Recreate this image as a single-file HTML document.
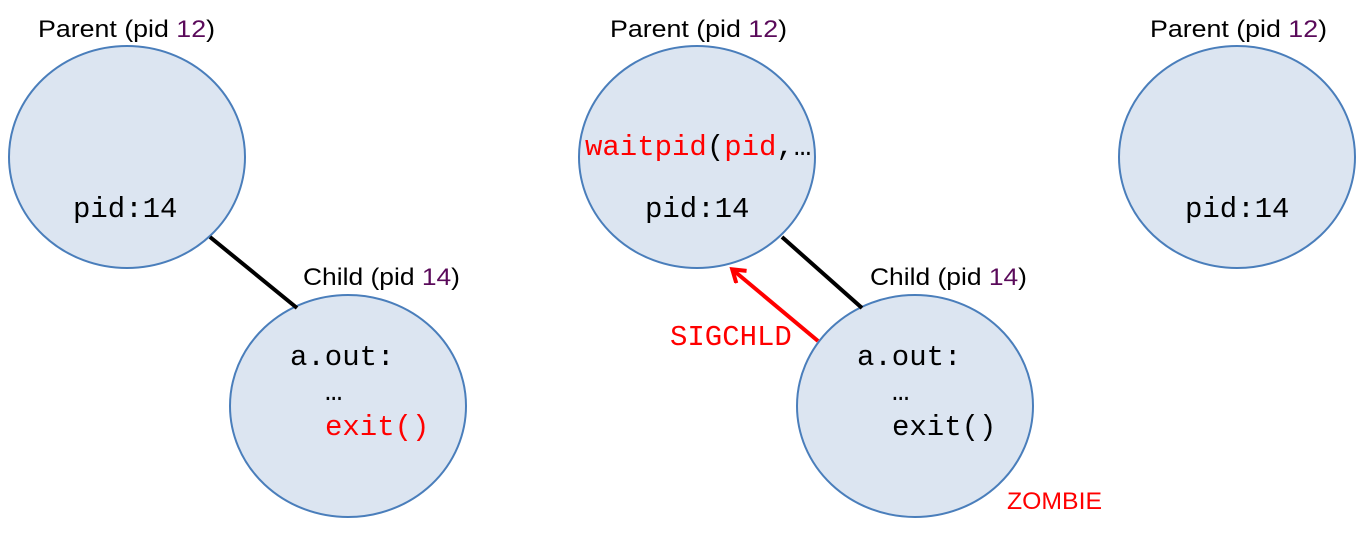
<!DOCTYPE html>
<html><head><meta charset="utf-8"><style>
html,body{margin:0;padding:0;background:#fff;}
svg{display:block;}
.lab{font-family:"Liberation Sans",sans-serif;font-size:24px;fill:#000;}
.mono{font-family:"Liberation Mono","Courier New",monospace;font-size:29px;fill:#000;}
.red{fill:#ff0000;}
.pur{fill:#5a0a5a;}
</style></head><body>
<svg width="1365" height="536" viewBox="0 0 1365 536">
<defs>
<marker id="ah" markerWidth="20" markerHeight="20" refX="12" refY="9" orient="auto" markerUnits="userSpaceOnUse">
<path d="M1,1 L13,9 L1,17" fill="none" stroke="#ff0000" stroke-width="4"/>
</marker>
</defs>
<g fill="#dce5f1" stroke="#4a7ebb" stroke-width="2">
<ellipse cx="127" cy="157" rx="118" ry="111"/>
<ellipse cx="348" cy="406" rx="118" ry="111"/>
<ellipse cx="697" cy="157" rx="118" ry="111"/>
<ellipse cx="915" cy="406" rx="118" ry="111"/>
<ellipse cx="1237" cy="157" rx="118" ry="111"/>
</g>
<line x1="210" y1="237" x2="297" y2="308" stroke="#000" stroke-width="4"/>
<line x1="782" y1="237" x2="862" y2="308" stroke="#000" stroke-width="4"/>
<line x1="818" y1="341" x2="733" y2="270" stroke="#ff0000" stroke-width="4" marker-end="url(#ah)"/>

<text class="lab" x="38" y="37" textLength="177" lengthAdjust="spacingAndGlyphs">Parent (pid <tspan class="pur">12</tspan>)</text>
<text class="lab" x="610" y="37" textLength="177" lengthAdjust="spacingAndGlyphs">Parent (pid <tspan class="pur">12</tspan>)</text>
<text class="lab" x="1150" y="37" textLength="177" lengthAdjust="spacingAndGlyphs">Parent (pid <tspan class="pur">12</tspan>)</text>
<text class="lab" x="303" y="285" textLength="157" lengthAdjust="spacingAndGlyphs">Child (pid <tspan class="pur">14</tspan>)</text>
<text class="lab" x="870" y="285" textLength="157" lengthAdjust="spacingAndGlyphs">Child (pid <tspan class="pur">14</tspan>)</text>
<text class="lab red" x="1007" y="509" textLength="95" lengthAdjust="spacingAndGlyphs">ZOMBIE</text>

<text class="mono" x="73" y="217">pid:14</text>
<text class="mono" x="645" y="217">pid:14</text>
<text class="mono" x="1185" y="217">pid:14</text>
<text class="mono" x="585" y="155"><tspan class="red">waitpid</tspan>(<tspan class="red">pid</tspan>,…</text>
<text class="mono" x="290" y="365">a.out:</text>
<text class="mono" x="325" y="400">…</text>
<text class="mono red" x="325" y="435">exit()</text>
<text class="mono" x="857" y="365">a.out:</text>
<text class="mono" x="892" y="400">…</text>
<text class="mono" x="892" y="435">exit()</text>
<text class="mono red" x="670" y="345">SIGCHLD</text>
</svg>
</body></html>
